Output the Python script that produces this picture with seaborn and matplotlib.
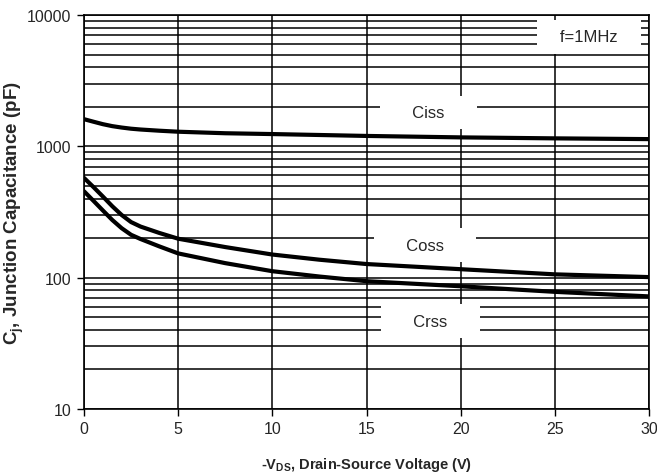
import matplotlib
matplotlib.use("Agg")
import matplotlib.pyplot as plt
import matplotlib.ticker as mticker
import numpy as np
import pandas as pd
import seaborn as sns

# ---- data ----
vds = [0, 0.5, 1, 1.5, 2, 2.5, 3, 4, 5, 7.5, 10, 12.5, 15, 20, 25, 30]
ciss = [1610, 1540, 1475, 1425, 1390, 1362, 1343, 1315, 1292, 1258, 1240, 1220, 1200, 1170, 1150, 1135]
coss = [575, 490, 415, 350, 300, 265, 245, 219, 198, 171, 150, 137, 127, 116, 106, 101]
crss = [455, 385, 325, 275, 238, 212, 197, 173, 153, 129, 112, 102, 94, 86, 78, 72]
series_names = ["Ciss", "Coss", "Crss"]
x_ticks = [0, 5, 10, 15, 20, 25, 30]
y_ticks = [10, 100, 1000, 10000]

df = pd.DataFrame({
    "vds": vds * 3,
    "cap": ciss + coss + crss,
    "series": [n for n in series_names for _ in vds],
})

sns.set_theme(style="white")
plt.rcParams["font.family"] = ["Liberation Sans", "DejaVu Sans"]

fig = plt.figure(figsize=(6.57, 4.77), dpi=100)
ax = fig.add_axes([84 / 657, 1 - 410 / 477, (649 - 84) / 657, (410 - 16) / 477])

ax.set_yscale("log")
ax.set_xlim(0, 30)
ax.set_ylim(10, 10000)

# grid
ax.yaxis.set_minor_locator(mticker.LogLocator(base=10, subs=np.arange(2, 10)))
ax.yaxis.set_minor_formatter(mticker.NullFormatter())
ax.set_yticks(y_ticks)
ax.set_yticklabels([str(t) for t in y_ticks])
ax.set_xticks(x_ticks)
ax.set_xticklabels([str(t) for t in x_ticks])
ax.grid(True, which="major", axis="both", color="black", linewidth=1.1)
ax.grid(True, which="minor", axis="y", color="black", linewidth=1.1)
ax.set_axisbelow(True)

sns.lineplot(data=df, x="vds", y="cap", hue="series",
             palette={n: "black" for n in series_names},
             linewidth=3.0, legend=False, ax=ax, zorder=3)

for s in ax.spines.values():
    s.set_color("black")
    s.set_linewidth(1.2)

ax.tick_params(axis="both", which="major", direction="out", length=5, width=1,
               color="black", labelsize=11.5, pad=4)
ax.tick_params(axis="y", which="minor", length=0)
ax.tick_params(axis="x", which="both", bottom=True)
ax.tick_params(axis="y", which="major", left=True)

ax.set_xlabel(r"-V$_{\mathregular{DS}}$, Drain-Source Voltage (V)",
              fontsize=10.5, fontweight="bold")
ax.set_ylabel(r"C$_{\mathregular{j}}$, Junction Capacitance (pF)",
              fontsize=13.5, fontweight="bold")
ax.xaxis.set_label_coords(0.5, -0.118)
ax.yaxis.set_label_coords(-0.103, 0.5)

box = dict(facecolor="white", edgecolor="none", boxstyle="square,pad=0.55")
ax.text(18.3, 1820, "     Ciss     ", ha="center", va="center", fontsize=12, bbox=box, zorder=4)
ax.text(18.1, 177, "     Coss     ", ha="center", va="center", fontsize=12, bbox=box, zorder=4)
ax.text(18.4, 46.7, "     Crss     ", ha="center", va="center", fontsize=12, bbox=box, zorder=4)
ax.text(26.8, 6800, "   f=1MHz   ", ha="center", va="center", fontsize=12, bbox=box, zorder=4)

fig.savefig("out.png", dpi=100)
